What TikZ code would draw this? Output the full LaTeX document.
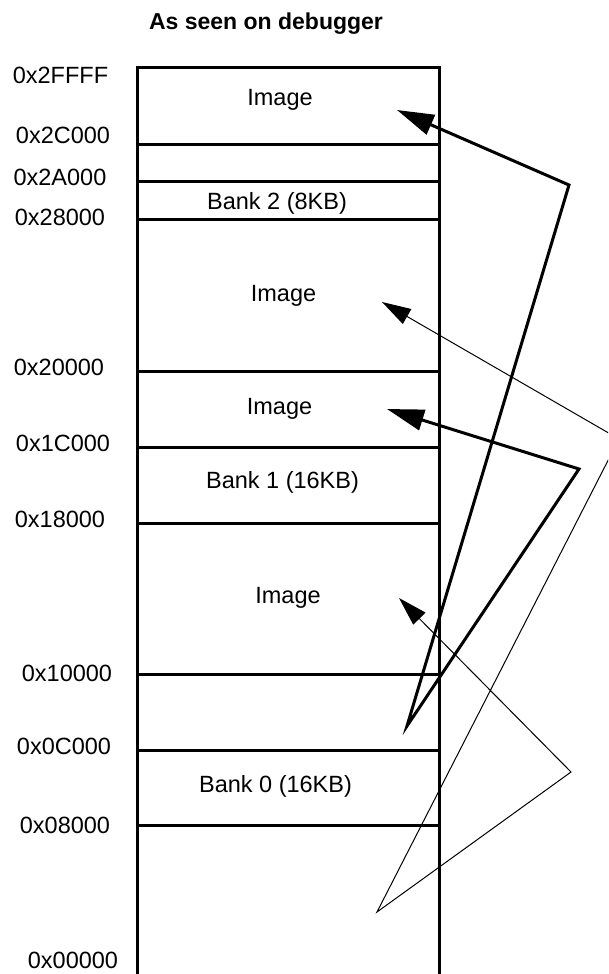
\documentclass[tikz,border=0pt]{standalone}
\usepackage{fontspec}
\setmainfont{Liberation Sans}
\usetikzlibrary{arrows.meta}
\begin{document}
\begin{tikzpicture}[x=1pt,y=-1pt,
  lbl/.style={anchor=base,inner sep=0pt,font=\fontsize{23.5}{28}\selectfont},
  ttl/.style={anchor=base,inner sep=0pt,font=\fontsize{23}{28}\selectfont\bfseries},
  memline/.style={line width=3pt,line join=miter},
  thickarrow/.style={line width=3pt,line join=miter,miter limit=20,
    {Triangle[length=37pt,width=21pt]}-{Triangle[length=37pt,width=21pt]}},
  thinarrow/.style={line width=1pt,line join=miter,miter limit=20,
    {Triangle[length=29pt,width=17pt]}-{Triangle[length=29pt,width=17pt]}}]
\useasboundingbox (0,0) rectangle (608,974);
\clip (0,0) rectangle (608,974);

% title
\node[ttl] (title) at (266,30) {As seen on debugger};

% memory box
\coordinate (bl) at (137,990);
\coordinate (tl) at (137,68);
\coordinate (tr) at (439,68);
\coordinate (br) at (439,990);
\draw[memline] (bl) -- (tl) -- (tr) -- (br);

% separators
\foreach \yy/\nm in {144.7/s1,181.8/s2,219.5/s3,371/s4,447/s5,523/s6,674/s7,750/s8,825/s9}{
  \coordinate (\nm L) at (137,\yy);
  \coordinate (\nm R) at (439,\yy);
  \draw[memline] (\nm L) -- (\nm R);
}

% address labels
\node[lbl] (a2FFFF) at (60.5,83) {0x2FFFF};
\node[lbl] (a2C000) at (63,143) {0x2C000};
\node[lbl] (a2A000) at (60,185) {0x2A000};
\node[lbl] (a28000) at (60,225) {0x28000};
\node[lbl] (a20000) at (59,375) {0x20000};
\node[lbl] (a1C000) at (63,451) {0x1C000};
\node[lbl] (a18000) at (60,527) {0x18000};
\node[lbl] (a10000) at (67,681) {0x10000};
\node[lbl] (a0C000) at (64,754) {0x0C000};
\node[lbl] (a08000) at (65,833) {0x08000};
\node[lbl] (a00000) at (73,968) {0x00000};

% region labels
\node[lbl] (img1) at (280,105) {Image};
\node[lbl] (bank2) at (277,209) {Bank 2 (8KB)};
\node[lbl] (img2) at (283.5,301) {Image};
\node[lbl] (img3) at (279.5,414) {Image};
\node[lbl] (bank1) at (282.5,488) {Bank 1 (16KB)};
\node[lbl] (img4) at (288,603) {Image};
\node[lbl] (bank0) at (275.5,792) {Bank 0 (16KB)};

% arrow points
\coordinate (P0) at (407,726);
\coordinate (C1) at (569,185);
\coordinate (T1) at (397,110);
\coordinate (C2) at (579,469);
\coordinate (T2) at (387,409);
\coordinate (Q0) at (377,912);
\coordinate (C3) at (619,439);
\coordinate (T3) at (382,302);
\coordinate (C4) at (571,772);
\coordinate (T4) at (399,598);

\draw[thickarrow] (T1) -- (C1) -- (P0) -- (C2) -- (T2);
\draw[thinarrow] (T3) -- (C3) -- (Q0) -- (C4) -- (T4);
\end{tikzpicture}
\end{document}
